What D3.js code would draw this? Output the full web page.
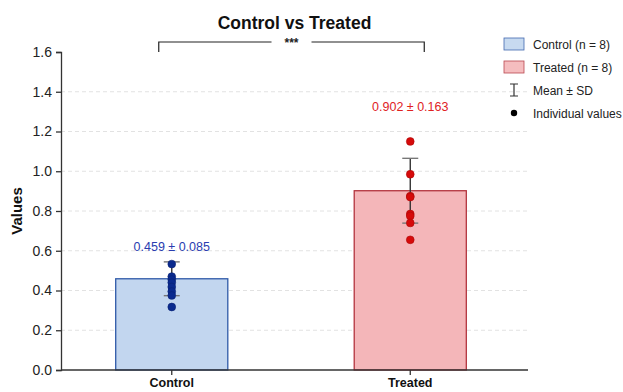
<!DOCTYPE html>
<html>
<head>
<meta charset="utf-8">
<script src="https://cdn.jsdelivr.net/npm/d3@7"></script>
<style>
  body { margin: 0; background: #fff; }
  svg { font-family: 'Liberation Sans', Arial, sans-serif; }
  .grid-lines line { stroke: #e2e2e2; stroke-dasharray: 4 3; }
</style>
</head>
<body>
<div class="chartcontainer"></div>
<script>
const groups = ['Control', 'Treated']
const means = [0.459, 0.902]
const sds = [0.085, 0.163]
const counts = [8, 8]
const controlValues = [0.533, 0.47, 0.455, 0.44, 0.418, 0.395, 0.375, 0.317]
const treatedValues = [1.15, 0.985, 0.875, 0.87, 0.785, 0.775, 0.74, 0.655]
const yTicks = [0, 0.2, 0.4, 0.6, 0.8, 1.0, 1.2, 1.4, 1.6]
const significance = '***'

document.addEventListener('DOMContentLoaded', function () {
  const w = 623
  const h = 392
  const left = 61
  const right = 528
  const top = 52
  const bottom = 370
  const fills = ['#c2d6ef', '#f4b6b9']
  const strokes = ['#2f5aa8', '#b3343e']
  const dotColors = ['#0a2a8e', '#d60a0a']
  const labelColors = ['#2a3db0', '#e0221f']
  const values = [controlValues, treatedValues]

  const xScale = d3.scaleBand().domain(groups).range([left, right])
    .paddingInner(0.53).paddingOuter(0.244).align(0.47)
  const yScale = d3.scaleLinear().domain([0, 1.6]).range([bottom, top])
  const cx = (g) => xScale(g) + xScale.bandwidth() / 2

  const svg = d3.select('.chartcontainer').append('svg')
    .attr('width', w).attr('height', h)

  // grid
  svg.append('g').attr('class', 'grid-lines')
    .selectAll('line')
    .data(yTicks.filter((d) => d > 0 && d < 1.6))
    .join('line')
    .attr('x1', left).attr('x2', right)
    .attr('y1', (d) => yScale(d)).attr('y2', (d) => yScale(d))

  // bars
  svg.selectAll('rect.bar')
    .data(groups)
    .join('rect')
    .attr('class', 'bar')
    .attr('x', (d) => xScale(d))
    .attr('y', (d, i) => yScale(means[i]))
    .attr('width', xScale.bandwidth())
    .attr('height', (d, i) => yScale(0) - yScale(means[i]))
    .attr('fill', (d, i) => fills[i])
    .attr('stroke', (d, i) => strokes[i])
    .attr('stroke-width', 1.3)

  // error bars
  groups.forEach((g, i) => {
    const x = cx(g)
    const lo = yScale(means[i] - sds[i])
    const hi = yScale(means[i] + sds[i])
    svg.append('line').attr('x1', x).attr('x2', x).attr('y1', lo).attr('y2', hi)
      .attr('stroke', '#333').attr('stroke-width', 1.4)
    ;[lo, hi].forEach((y) => {
      svg.append('line').attr('x1', x - 8).attr('x2', x + 8).attr('y1', y).attr('y2', y)
        .attr('stroke', '#777').attr('stroke-width', 1.4)
    })
  })

  // individual points
  groups.forEach((g, i) => {
    svg.append('g').selectAll('circle')
      .data(values[i])
      .join('circle')
      .attr('cx', cx(g))
      .attr('cy', (d) => yScale(d))
      .attr('r', 3.9)
      .attr('fill', dotColors[i])
      .attr('stroke', d3.color(dotColors[i]).darker(0.6))
      .attr('stroke-width', 0.6)
  })

  // mean ± sd labels
  const labelAt = [0.62, 1.325]
  groups.forEach((g, i) => {
    svg.append('text')
      .text(means[i].toFixed(3) + ' ± ' + sds[i].toFixed(3))
      .attr('x', cx(g)).attr('y', yScale(labelAt[i]) + 4.5)
      .attr('text-anchor', 'middle')
      .attr('font-size', 12.5)
      .attr('fill', labelColors[i])
  })

  // axes
  const yAxis = d3.axisLeft(yScale).tickValues(yTicks).tickFormat(d3.format('.1f'))
    .tickSizeOuter(0).tickSize(5).tickPadding(4)
  const yg = svg.append('g').attr('transform', 'translate(' + left + ',0)').call(yAxis)
  yg.selectAll('text').attr('font-size', 14).attr('fill', '#222')
  yg.selectAll('line, path').attr('stroke', '#333').attr('stroke-width', 1.3)

  const xAxis = d3.axisBottom(xScale).tickSizeOuter(0).tickSize(5).tickPadding(3)
  const xg = svg.append('g').attr('transform', 'translate(0,' + bottom + ')').call(xAxis)
  xg.select('.domain').attr('d', 'M' + left + ',0H' + right)
  xg.selectAll('text').attr('font-size', 12.5).attr('font-weight', 'bold').attr('fill', '#111')
  xg.selectAll('line, path').attr('stroke', '#333').attr('stroke-width', 1.3)

  // y label
  svg.append('text').text('Values')
    .attr('transform', 'rotate(-90)')
    .attr('x', -211).attr('y', 22)
    .attr('text-anchor', 'middle')
    .attr('font-size', 15).attr('font-weight', 'bold').attr('fill', '#111')

  // title
  svg.append('text').text('Control vs Treated')
    .attr('x', (left + right) / 2).attr('y', 29)
    .attr('text-anchor', 'middle')
    .attr('font-size', 17.5).attr('font-weight', 'bold').attr('fill', '#111')

  // significance bracket
  const bx1 = cx(groups[0]) - 13
  const bx2 = cx(groups[1]) + 14
  const by = 42
  const mid = (bx1 + bx2) / 2
  const bracket = svg.append('g').attr('stroke', '#222').attr('stroke-width', 1.2).attr('fill', 'none')
  bracket.append('path').attr('d', 'M' + bx1 + ',' + (by + 10) + 'V' + by + 'H' + (mid - 20))
  bracket.append('path').attr('d', 'M' + (mid + 20) + ',' + by + 'H' + bx2 + 'V' + (by + 10))
  svg.append('text').text(significance)
    .attr('x', mid).attr('y', by + 5)
    .attr('text-anchor', 'middle')
    .attr('font-size', 12).attr('font-weight', 'bold').attr('fill', '#222')

  // legend
  const legend = svg.append('g').attr('transform', 'translate(504,44)')
  groups.forEach((g, i) => {
    legend.append('rect')
      .attr('x', 0).attr('y', i * 23 - 6)
      .attr('width', 20).attr('height', 12)
      .attr('fill', fills[i]).attr('stroke', strokes[i]).attr('stroke-width', 0.8)
      .attr('opacity', 0.9)
    legend.append('text').text(g + ' (n = ' + counts[i] + ')')
      .attr('x', 29).attr('y', i * 23 + 4.5)
      .attr('font-size', 12).attr('fill', '#222')
  })
  const ey = 46
  legend.append('path')
    .attr('d', 'M6,' + (ey - 6) + 'H14M10,' + (ey - 6) + 'V' + (ey + 6) + 'M6,' + (ey + 6) + 'H14')
    .attr('stroke', '#333').attr('stroke-width', 1.2).attr('fill', 'none')
  legend.append('text').text('Mean ± SD')
    .attr('x', 29).attr('y', ey + 4.5)
    .attr('font-size', 12).attr('fill', '#222')
  legend.append('circle').attr('cx', 10).attr('cy', 69).attr('r', 3.2).attr('fill', '#000')
  legend.append('text').text('Individual values')
    .attr('x', 29).attr('y', 69 + 4.5)
    .attr('font-size', 12).attr('fill', '#222')
})
</script>
</body>
</html>
